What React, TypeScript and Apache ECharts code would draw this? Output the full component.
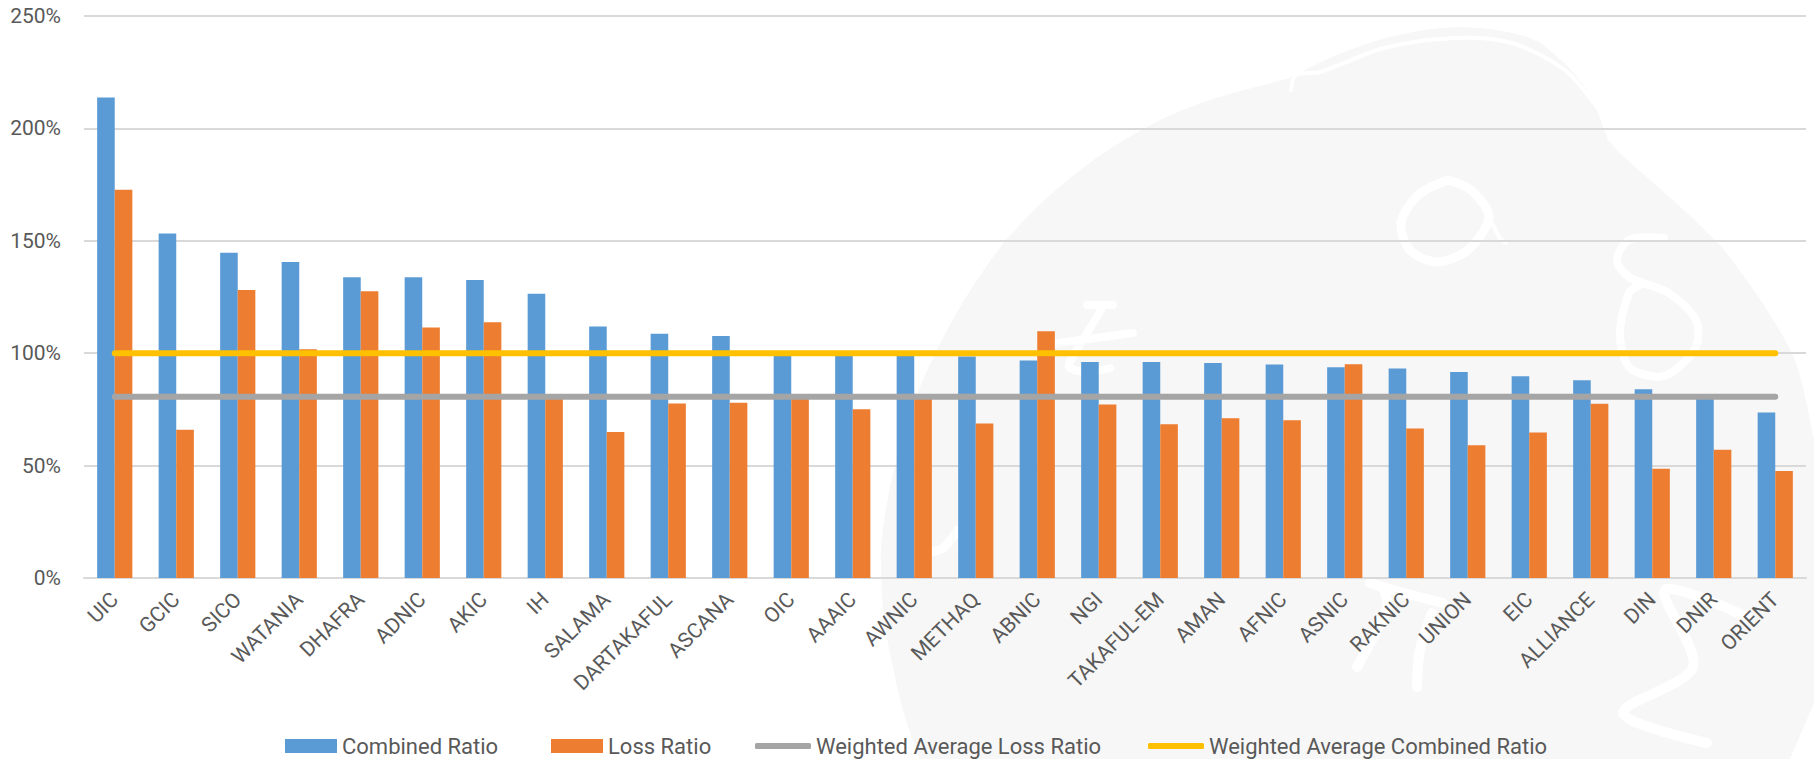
import React, { useEffect, useRef } from "react";
import * as echarts from "echarts";

const categories = ["UIC","GCIC","SICO","WATANIA","DHAFRA","ADNIC","AKIC","IH","SALAMA","DARTAKAFUL","ASCANA","OIC","AAAIC","AWNIC","METHAQ","ABNIC","NGI","TAKAFUL-EM","AMAN","AFNIC","ASNIC","RAKNIC","UNION","EIC","ALLIANCE","DIN","DNIR","ORIENT"];
const combinedRatio = [213.8,153.2,144.7,140.6,133.8,133.8,132.6,126.5,111.9,108.7,107.7,100,99.5,99,98.5,96.7,96.1,96.1,95.6,95,93.8,93.2,91.6,89.8,88,84,81,73.6];
const lossRatio = [172.7,66,128.1,101.8,127.6,111.4,113.8,80,64.9,77.6,78,80.5,75.1,80,68.7,109.8,77.2,68.4,71.1,70.2,95.1,66.5,59,64.7,77.5,48.6,57,47.6];
const weightedLoss = [80.6,80.6,80.6,80.6,80.6,80.6,80.6,80.6,80.6,80.6,80.6,80.6,80.6,80.6,80.6,80.6,80.6,80.6,80.6,80.6,80.6,80.6,80.6,80.6,80.6,80.6,80.6,80.6];
const weightedCombined = [100,100,100,100,100,100,100,100,100,100,100,100,100,100,100,100,100,100,100,100,100,100,100,100,100,100,100,100];

const FONT = "Roboto";
const TEXT = "#595959";

const DOME = "M920 759 C910 735 900 705 893 667 C884 630 880 590 881 546 C888 480 905 420 925 375 C950 320 975 280 1005 241 C1050 190 1095 155 1145 128 C1195 100 1245 90 1290 78 C1340 50 1400 28 1460 27 C1500 28 1525 35 1541 43 C1570 65 1590 90 1597 110 L1608 140 C1625 160 1640 170 1658 187 C1685 210 1705 230 1722 247 C1755 290 1775 320 1792 353 C1802 375 1808 410 1814 440 L1814 703 L1790 759 Z";

const strokes: { w: number; pts: number[][] }[] = [
  { w: 4, pts: [[1291,90],[1296,75],[1320,72],[1384,48],[1454,38],[1512,43],[1565,70],[1594,103],[1608,123]] },
  { w: 9, pts: [[1448,180],[1418,195],[1401,223],[1410,250],[1436,262],[1468,250],[1489,217],[1471,190],[1448,180]] },
  { w: 4, pts: [[1489,217],[1500,238],[1506,243]] },
  { w: 8, pts: [[1664,238],[1629,240],[1617,260],[1629,277],[1669,293],[1696,320],[1696,347],[1675,370],[1658,377],[1629,367],[1620,333],[1629,293],[1640,285]] },
  { w: 8, pts: [[1087,305],[1113,305]] },
  { w: 8, pts: [[1101,310],[1087,333],[1075,353],[1069,367],[1087,372],[1110,368]] },
  { w: 8, pts: [[1057,343],[1104,337],[1133,333]] },
  { w: 9, pts: [[958,530],[943,548],[925,553]] },
  { w: 10, pts: [[1370,583],[1400,592],[1443,603]] },
  { w: 10, pts: [[1384,590],[1387,607],[1357,667]] },
  { w: 10, pts: [[1432,613],[1420,650],[1417,687]] },
  { w: 10, pts: [[1747,617],[1665,590],[1693,667],[1623,713],[1707,743]] },
];

function App() {
  const ref = useRef<HTMLDivElement>(null);
  useEffect(() => {
    document.body.style.margin = "0";
    echarts.graphic.registerShape("dome", echarts.graphic.extendPath(DOME, {}));
    const chart = echarts.init(ref.current!, null, { renderer: "svg" });
    const barSeries = (name: string, data: number[], color: string) => ({
      name, type: "bar", data, barWidth: 17.6, barGap: 0,
      itemStyle: { color }, z: 2,
    });
    const lineSeries = (name: string, data: number[], color: string, z: number) => ({
      name, type: "line", data, symbol: "none", z,
      lineStyle: { color, width: 6, cap: "round" }, itemStyle: { color },
    });
    const legend = (name: string, left: number, icon: string, w: number, h: number) => ({
      left, top: 733, padding: 0, itemWidth: w, itemHeight: h, icon,
      textStyle: { color: TEXT, fontFamily: FONT, fontSize: 22, lineHeight: 26 },
      data: [name],
    });
    chart.setOption({
      animation: false,
      backgroundColor: "#ffffff",
      graphic: [
        { type: "dome", x: 0, y: 0, z: -20, silent: true, style: { fill: "#f7f7f7" } },
        ...strokes.map((s) => ({
          type: "polyline", z: -19, silent: true,
          shape: { points: s.pts, smooth: 0.3 },
          style: { stroke: "#ffffff", lineWidth: s.w, fill: "none", lineCap: "round", lineJoin: "round" },
        })),
      ],
      grid: { left: 84, right: 8, top: 16, bottom: 181, containLabel: false },
      legend: [
        legend("Combined Ratio", 285, "rect", 52, 14),
        legend("Loss Ratio", 551, "rect", 52, 14),
        legend("Weighted Average Loss Ratio", 755, "roundRect", 56, 6),
        legend("Weighted Average Combined Ratio", 1148, "roundRect", 56, 6),
      ],
      xAxis: {
        type: "category", data: categories,
        axisTick: { show: false },
        axisLine: { lineStyle: { color: "#d9d9d9", width: 2 } },
        axisLabel: { interval: 0, rotate: 45, margin: 18, color: TEXT, fontFamily: FONT, fontSize: 21 },
      },
      yAxis: {
        type: "value", min: 0, max: 250, interval: 50,
        axisLine: { show: false }, axisTick: { show: false },
        splitLine: { lineStyle: { color: "#d9d9d9", width: 2 } },
        axisLabel: { formatter: "{value}%", margin: 23, color: TEXT, fontFamily: FONT, fontSize: 21 },
      },
      series: [
        barSeries("Combined Ratio", combinedRatio, "#5b9bd5"),
        barSeries("Loss Ratio", lossRatio, "#ed7d31"),
        lineSeries("Weighted Average Loss Ratio", weightedLoss, "#a5a5a5", 3),
        lineSeries("Weighted Average Combined Ratio", weightedCombined, "#ffc000", 4),
      ],
    });
    return () => chart.dispose();
  }, []);
  return <div ref={ref} style={{ width: 1814, height: 759 }} />;
}

export default App;
